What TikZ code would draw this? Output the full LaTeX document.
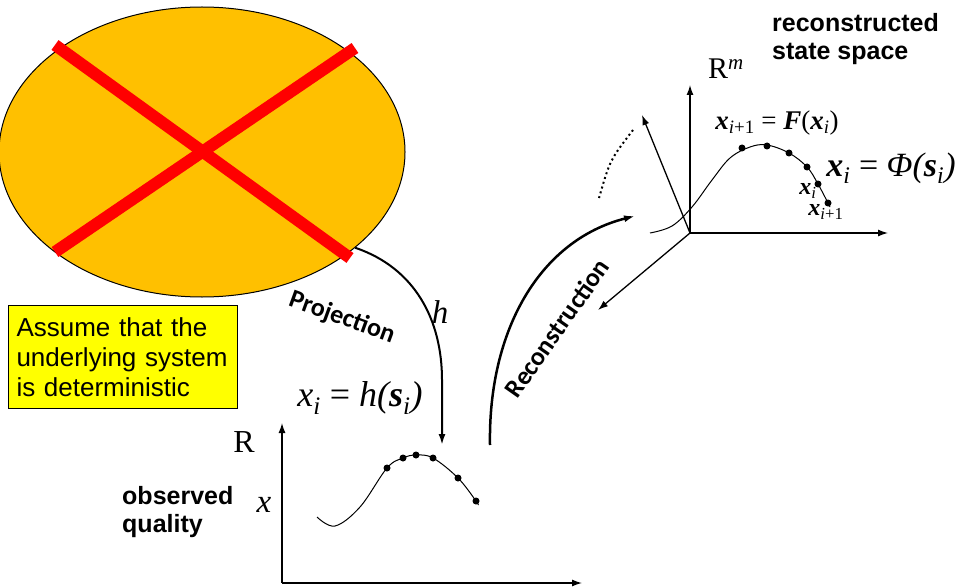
\documentclass[tikz,border=0pt]{standalone}
\usepackage{fontspec}
\setmainfont{Liberation Sans}
\newfontfamily\tnr{Liberation Serif}
\newfontfamily\carlito{Carlito}
\usepackage{tikz}
\usetikzlibrary{positioning,shapes.geometric,arrows.meta}
\definecolor{sysgold}{RGB}{255,192,0}
\definecolor{crossred}{RGB}{255,0,0}
\definecolor{noteyel}{RGB}{255,255,0}
\newcommand{\lsub}[1]{\textsubscript{\mdseries\itshape #1}}

\begin{document}
\begin{tikzpicture}[x=1pt,y=-1pt,
    axis/.style={-{Latex[length=10pt,width=7pt]}, line width=1.3pt},
    arr/.style={-{Latex[length=11pt,width=7pt]}, line width=2pt},
    lbl/.style={font=\bfseries\fontsize{25}{28}\selectfont, align=left, inner sep=0pt},
    tnrlbl/.style={font=\tnr\fontsize{32}{36}\selectfont, inner sep=0pt},
    turnlbl/.style={font=\carlito\bfseries\fontsize{26}{30}\selectfont, inner sep=0pt}
  ]
  \useasboundingbox (0,0) rectangle (965,588);

  % underlying system
  \node[ellipse, draw, line width=1pt, fill=sysgold, inner sep=0pt,
        minimum width=406pt, minimum height=290pt] (sys) at (202,152) {};
  \draw[crossred, line width=12pt] (55,45) -- (350,258);
  \draw[crossred, line width=12pt] (355,48) -- (55,252);

  \node[draw, line width=1pt, fill=noteyel, anchor=north west, align=left,
        font=\fontsize{26}{30}\selectfont, text width=213pt, inner xsep=8pt,
        inner ysep=6pt, minimum height=103pt] (assume) at (8,305)
        {Assume that the\\underlying system\\is deterministic};

  % observed time series
  \coordinate (o1) at (282,583);
  \coordinate (o1y) at (282,423);
  \coordinate (o1x) at (582,583);
  \draw[axis] (o1) -- (o1y);
  \draw[axis] (o1) -- (o1x);
  \draw[line width=1pt] plot[smooth, tension=0.6] coordinates
        {(317,517) (335,526) (360,507) (387,468) (403,458) (416,455)
         (433,458) (458,478) (476,501) (478,505)};
  \foreach \p in {(387,468),(403,458),(416,455),(433,458),(458,478),(476,501)}
    \fill \p circle (3.5pt);
  \node[tnrlbl] (rlow) at (244,442) {R};
  \node[tnrlbl, font=\tnr\itshape\fontsize{33}{36}\selectfont] (xlow) at (264,505) {x};
  \node[lbl, anchor=north west] (obsq) at (122,486) {observed\\quality};
  \node[tnrlbl, font=\tnr\fontsize{36}{40}\selectfont] (hform) at (360,398)
        {{\itshape x}\lsub{i} = {\itshape h(\bfseries s\lsub{i}\mdseries)}};

  % reconstructed state space
  \coordinate (o2) at (690,233);
  \coordinate (o2y) at (690,85);
  \coordinate (o2x) at (888,233);
  \coordinate (o2u) at (642,115);
  \coordinate (o2d) at (598,310);
  \draw[axis] (o2) -- (o2y);
  \draw[axis] (o2) -- (o2x);
  \draw[axis] (o2) -- (o2u);
  \draw[axis] (o2) -- (o2d);
  \draw[line width=2pt, dash pattern=on 2pt off 3pt] (633,130) .. controls (610,160) .. (599,198);
  \draw[line width=1pt] plot[smooth, tension=0.6] coordinates
        {(650,233) (672,226) (692,207) (712,180) (730,158) (750,147) (767,145)
         (789,153) (807,167) (818,184) (830,207)};
  \foreach \p in {(742,148),(767,146),(789,153),(807,167),(818,184),(828,203)}
    \fill \p circle (3.5pt);
  \node[tnrlbl, font=\tnr\fontsize{30}{34}\selectfont] (rup) at (726,69) {R\textsuperscript{\itshape m}};
  \node[lbl, anchor=north west] (rss) at (772,13) {reconstructed\\state space};
  \node[tnrlbl, font=\tnr\fontsize{27}{30}\selectfont] (fmap) at (777,123)
        {{\bfseries\itshape x}\lsub{i\upshape +1} = {\bfseries\itshape F}({\bfseries\itshape x}\lsub{i})};
  \node[tnrlbl, font=\tnr\fontsize{34}{38}\selectfont] (phi) at (891,168)
        {{\bfseries\itshape x}\lsub{i} = {\itshape Φ(\bfseries s\lsub{i}\mdseries)}};
  \node[tnrlbl, font=\tnr\bfseries\itshape\fontsize{24}{28}\selectfont] (xi) at (808,191) {x\lsub{i}};
  \node[tnrlbl, font=\tnr\bfseries\itshape\fontsize{24}{28}\selectfont] (xii) at (826,212) {x\lsub{i\upshape +1}};

  % projection and reconstruction
  \coordinate (projend) at (442,445);
  \coordinate (recstart) at (490,445);
  \coordinate (recend) at (635,216);
  \draw[arr] (sys.-32) .. controls (415,268) and (442,320) .. (442,380) -- (projend);
  \node[tnrlbl, font=\tnr\itshape\fontsize{33}{36}\selectfont] (hlbl) at (440,312) {h};
  \node[turnlbl, rotate=-20] (projlbl) at (342,318) {Projection};
  \draw[arr, line width=2.5pt] (recstart) .. controls (488,330) and (540,240) .. (recend);
  \node[turnlbl, rotate=55] (reclbl) at (557,328) {Reconstruction};
\end{tikzpicture}
\end{document}
